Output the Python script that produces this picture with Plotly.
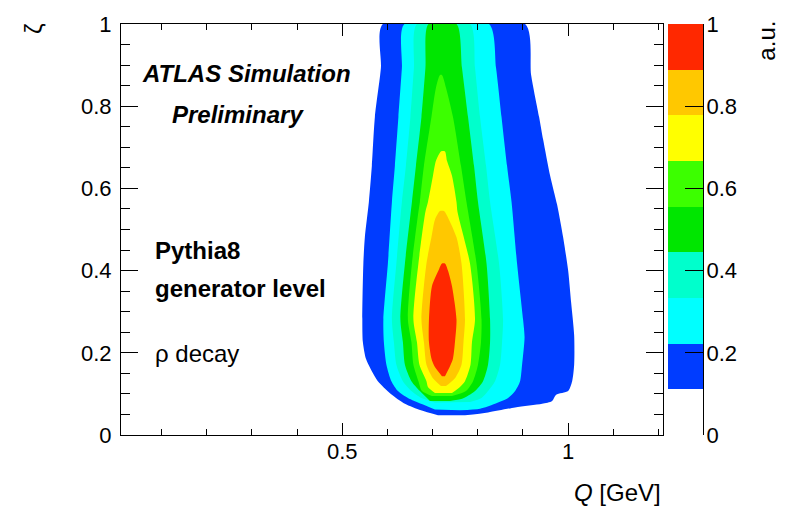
import plotly.graph_objects as go

# contour levels (fraction of the maximum, a.u.) and the colour of each band
levels = [1/9, 2/9, 3/9, 4/9, 5/9, 6/9, 7/9, 8/9, 1.0]
band_colors = ["#003cff", "#00ffff", "#00ffcc", "#00e600",
               "#3cff00", "#ffff00", "#ffc800", "#ff2800"]

# outline of the region above each level: Q [GeV] and zeta,
# left edge from the bottom up, then right edge from the top down
q_lvl1 = [.7118, .6741, .6386, .6075, .5787, .5654, .5521, .5455, .5443, .5466, .5499, .5588, .5654, .5721, .5854, .5898,
          .9047, .9180, .9357, .9446, .9601, .9756, .9889, 1.0000, 1.0067, 1.0133, 1.0133, 1.0089, 1.0000, .9734, .9645, .9424, .8825, .8226, .7716]
z_lvl1 = [.048, .060, .076, .100, .131, .155, .186, .226, .281, .417, .481, .567, .655, .774, .893, 1.0,
          1.0, .876, .774, .719, .631, .560, .481, .400, .321, .243, .171, .131, .107, .098, .083, .076, .067, .055, .048]

q_lvl2 = [.7051, .6741, .6452, .6231, .6086, .5976, .5920, .5909, .6009, .6098, .6164, .6242, .6319, .6375,
          .8248, .8404, .8525, .8647, .8747, .8869, .9002, .9035, .8980, .8936, .8825, .8670, .8381, .8049, .7605]
z_lvl2 = [.062, .076, .090, .107, .131, .171, .226, .281, .417, .567, .655, .774, .893, 1.0,
          1.0, .893, .774, .655, .567, .417, .281, .238, .171, .131, .107, .090, .076, .064, .060]

q_lvl3 = [.7051, .6752, .6530, .6341, .6197, .6142, .6098, .6197, .6319, .6408, .6508, .6585, .6652,
          .7827, .7938, .8049, .8182, .8271, .8470, .8559, .8537, .8492, .8381, .8226, .8082, .7827]
z_lvl3 = [.079, .090, .107, .131, .171, .226, .281, .417, .567, .655, .774, .893, 1.0,
          1.0, .893, .774, .655, .567, .417, .281, .226, .171, .131, .107, .090, .080]

q_lvl4 = [.6940, .6718, .6530, .6386, .6341, .6286, .6386, .6541, .6630, .6752, .6840, .6907,
          .7528, .7650, .7783, .7916, .8004, .8193, .8271, .8271, .8226, .8115, .7938, .7650, .7384]
z_lvl4 = [.083, .107, .131, .171, .226, .281, .417, .567, .655, .774, .893, 1.0,
          1.0, .893, .774, .655, .567, .417, .281, .226, .171, .131, .107, .088, .083]

q_lvl5 = [.6984, .6763, .6685, .6574, .6530, .6452, .6541, .6685, .6718, .6807, .6973, .7073, .7162,
          .7206, .7295, .7450, .7627, .7749, .7971, .8082, .8071, .8004, .7894, .7738, .7428]
z_lvl5 = [.095, .107, .131, .171, .226, .281, .417, .543, .567, .655, .774, .845, .876,
          .876, .845, .774, .655, .567, .417, .281, .226, .171, .131, .107, .095]

q_lvl6 = [.7051, .6896, .6863, .6707, .6652, .6574, .6685, .6840, .6896, .7007, .7073, .7184,
          .7273, .7317, .7428, .7528, .7550, .7827, .7938, .7871, .7838, .7716, .7605, .7428]
z_lvl6 = [.102, .117, .131, .171, .226, .281, .417, .543, .567, .631, .667, .690,
          .690, .667, .631, .567, .543, .417, .281, .226, .171, .131, .117, .102]

q_lvl7 = [.7184, .7007, .6863, .6807, .6752, .6863, .6973, .7051, .7162,
          .7251, .7361, .7528, .7639, .7716, .7683, .7639, .7494, .7295]
z_lvl7 = [.119, .138, .171, .226, .281, .417, .481, .524, .545,
          .545, .524, .481, .417, .281, .226, .171, .138, .119]

q_lvl8 = [.7206, .7040, .6973, .6918, .6918, .6984, .7129, .7206,
          .7273, .7339, .7428, .7528, .7494, .7450, .7384, .7273]
z_lvl8 = [.143, .167, .186, .226, .281, .362, .400, .417,
          .417, .400, .362, .281, .226, .186, .167, .143]

outlines = [(q_lvl1, z_lvl1), (q_lvl2, z_lvl2), (q_lvl3, z_lvl3), (q_lvl4, z_lvl4),
            (q_lvl5, z_lvl5), (q_lvl6, z_lvl6), (q_lvl7, z_lvl7), (q_lvl8, z_lvl8)]

FONT = "Liberation Sans, Arial, Helvetica, sans-serif"

fig = go.Figure()

# filled contour bands, lowest level first so higher levels sit on top
for (qs, zs), col in zip(outlines, band_colors):
    fig.add_trace(go.Scatter(
        x=qs, y=zs, mode="lines", fill="toself", fillcolor=col,
        line=dict(width=0, color=col, shape="spline", smoothing=0.7),
        hoverinfo="skip", showlegend=False))

# colour scale: one stacked block per band
fig.add_trace(go.Bar(
    x=[0] * (len(levels) - 1),
    y=[levels[i + 1] - levels[i] for i in range(len(levels) - 1)],
    base=levels[:-1], width=1, marker=dict(color=band_colors, line=dict(width=0)),
    xaxis="x2", yaxis="y2", hoverinfo="skip", showlegend=False))

L, R, T, B = 121, 84, 15, 75
W, H = 787, 510
pw = W - L - R
ph = H - T - B

def px_x(px):
    return (px - L) / pw

def px_y(py):
    return (H - B - py) / ph

axis_common = dict(showgrid=False, zeroline=False, showline=True, linecolor="black", linewidth=1,
                   ticks="inside", tickcolor="black", tickwidth=1,
                   tickfont=dict(family=FONT, size=22, color="black"))

fig.update_layout(
    width=W, height=H,
    margin=dict(l=L, r=R, t=T, b=B),
    paper_bgcolor="white", plot_bgcolor="white",
    font=dict(family=FONT, color="black"),
    showlegend=False,
    xaxis=dict(domain=[0, px_x(663)], range=[0.01, 1.21], tick0=0, dtick=0.5, ticklen=12,
               mirror="ticks", ticklabelstandoff=-3,
               minor=dict(dtick=0.1, ticklen=6, ticks="inside", tickcolor="black"),
               **axis_common),
    yaxis=dict(range=[0, 1], tick0=0, dtick=0.2, ticklen=17, mirror="ticks", ticklabelstandoff=4,
               minor=dict(dtick=0.05, ticklen=9, ticks="inside", tickcolor="black"),
               **axis_common),
    xaxis2=dict(domain=[px_x(668), 1], range=[-0.5, 0.5], visible=False, anchor="y2"),
    yaxis2=dict(anchor="x2", side="right", range=[0, 1], tick0=0, dtick=0.2, ticklen=18,
                ticklabelstandoff=-2, **axis_common),
    bargap=0,
)

# axis titles
fig.add_annotation(text="<i>Q</i> [GeV]", xref="paper", yref="paper",
                   x=px_x(663), y=px_y(494), xanchor="right", yanchor="middle",
                   showarrow=False, font=dict(family=FONT, size=24))
fig.add_annotation(text="ζ", xref="paper", yref="paper", textangle=-90,
                   x=px_x(34), y=px_y(20), xanchor="center", yanchor="middle",
                   showarrow=False, font=dict(family=FONT, size=24))
fig.add_annotation(text="a.u.", xref="paper", yref="paper", textangle=-90,
                   x=px_x(767), y=px_y(32), xanchor="center", yanchor="middle",
                   showarrow=False, font=dict(family=FONT, size=24))

# labels inside the frame
labels = [
    ("<b><i>ATLAS Simulation</i></b>", 0.053, 0.879),
    ("<b><i>Preliminary</i></b>", 0.1175, 0.779),
    ("<b>Pythia8</b>", 0.0798, 0.448),
    ("<b>generator level</b>", 0.0798, 0.357),
    ("ρ decay", 0.0798, 0.198),
]
for txt, xq, yz in labels:
    fig.add_annotation(text=txt, x=xq, y=yz, xref="x", yref="y", xanchor="left", yanchor="middle",
                       showarrow=False, font=dict(family=FONT, size=24, color="black"))

fig.write_html("out.html")
